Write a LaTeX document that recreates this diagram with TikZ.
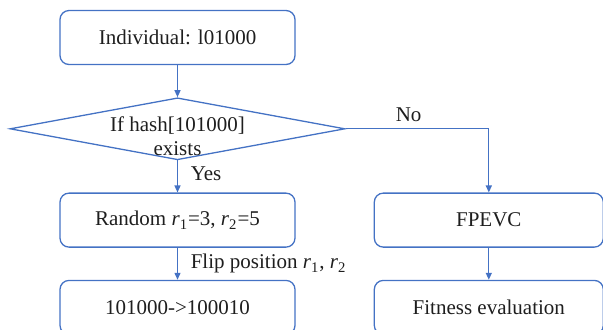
\documentclass[tikz,border=0pt]{standalone}
\usepackage{fontspec}
\setmainfont{Liberation Serif}
\usepackage{xcolor}
\usepackage{tikz}
\usetikzlibrary{arrows.meta,positioning,shapes.geometric}
\definecolor{flowblue}{RGB}{68,114,196}
\definecolor{flowtext}{RGB}{30,30,30}

\begin{document}
\begin{tikzpicture}[
  x=0.5pt, y=-0.5pt, >={Triangle[length=3.5pt,width=3pt]},
  node distance=16pt and 39pt,
  box/.style={draw=flowblue, line width=0.65pt, rounded corners=4.5pt,
              minimum width=117.5pt, minimum height=27pt, inner sep=0pt},
  rbox/.style={box, minimum width=114.5pt},
  check/.style={draw=flowblue, line width=0.65pt, diamond,
                minimum width=167.5pt, minimum height=31pt, inner sep=0pt},
  flow/.style={draw=flowblue, line width=0.65pt, ->},
  tag/.style={right, xshift=3pt},
  text=flowtext, font=\fontsize{10.5}{12}\selectfont]
\useasboundingbox (0,0) rectangle (603,329);
\node[box] (ind) at (177.5,37.5) {Individual: l01000};
\node[check, below=of ind] (chk) {};
\node[align=center, yshift=-3.5pt] (chktxt) at (chk) {If hash[101000]\\exists};
\node[box, below=of chk] (rnd) {Random \textit{r}\textsubscript{1}=3, \textit{r}\textsubscript{2}=5};
\node[box, below=of rnd] (flp) {101000->100010};
\node[rbox, right=of rnd] (fpe) {FPEVC};
\node[rbox, below=of fpe] (fit) {Fitness evaluation};
\path[flow] (ind) -- (chk);
\path[flow] (chk) -- node[tag, pos=0.4]{Yes} (rnd);
\path[flow] (rnd) -- node[tag]{Flip position \textit{r}\textsubscript{1}, \textit{r}\textsubscript{2}} (flp);
\path[flow] (chk.east) -| node[above, pos=0.22]{No} (fpe);
\path[flow] (fpe) -- (fit);
\end{tikzpicture}
\end{document}
